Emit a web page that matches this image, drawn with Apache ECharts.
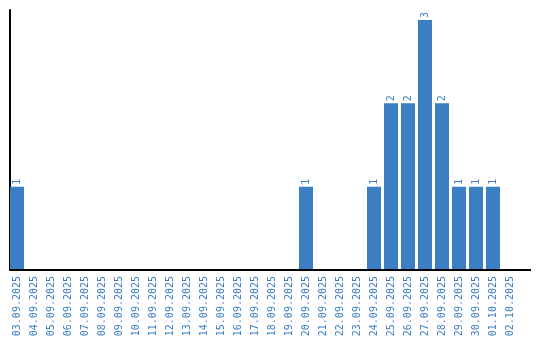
<!DOCTYPE html>
<html><head><meta charset="utf-8">
<style>html,body{margin:0;padding:0;background:#fff}#c{width:540px;height:340px}</style>
<script src="https://cdn.jsdelivr.net/npm/echarts@6/dist/echarts.min.js"></script>
</head><body><div id="c"></div>
<script>
const categories = ["03.09.2025","04.09.2025","05.09.2025","06.09.2025","07.09.2025","08.09.2025","09.09.2025","10.09.2025","11.09.2025","12.09.2025","13.09.2025","14.09.2025","15.09.2025","16.09.2025","17.09.2025","18.09.2025","19.09.2025","20.09.2025","21.09.2025","22.09.2025","23.09.2025","24.09.2025","25.09.2025","26.09.2025","27.09.2025","28.09.2025","29.09.2025","30.09.2025","01.10.2025","02.10.2025"];
const values = [1,0,0,0,0,0,0,0,0,0,0,0,0,0,0,0,0,1,0,0,0,1,2,2,3,2,1,1,1,0];

const chart = echarts.init(document.getElementById('c'), null, {renderer:'canvas'});
const blue = '#3b7ec3';
chart.setOption({
  animation:false,
  grid:{left:8.5, top:10, width:510, height:260, containLabel:false},
  xAxis:{type:'category', data:categories,
    axisLine:{show:false}, axisTick:{show:false},
    axisLabel:{rotate:90, interval:0, margin:6, color:blue, fontFamily:'DejaVu Sans Mono', fontSize:10}
  },
  yAxis:{type:'value', min:0, max:3.12, offset:-1.5,
    axisLine:{show:true, lineStyle:{color:'#000', width:2}},
    axisTick:{show:false}, axisLabel:{show:false}, splitLine:{show:false}
  },
  graphic:[{type:'line', shape:{x1:10, y1:270, x2:531, y2:270}, style:{stroke:'#000', lineWidth:2}, z:10}],
  series:[{type:'bar', data:values, barWidth:14,
    itemStyle:{color:blue},
    label:{show:true, position:'top', rotate:90, align:'left', verticalAlign:'middle', distance:2,
      color:blue, fontFamily:'DejaVu Sans Mono', fontSize:10,
      formatter:p=>p.value>0?String(p.value):''}
  }]
});
</script></body></html>
